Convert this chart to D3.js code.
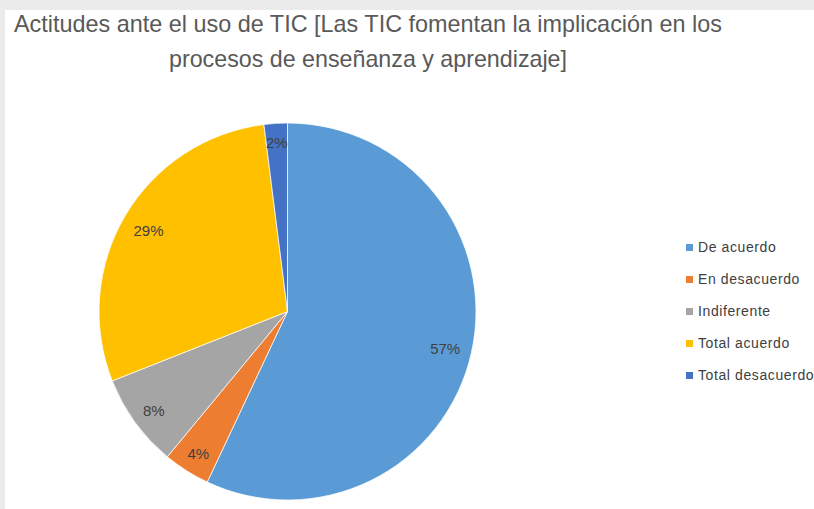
<!DOCTYPE html>
<html>
<head>
<meta charset="utf-8">
<script src="https://cdn.jsdelivr.net/npm/d3@7"></script>
<style>
  html, body { margin: 0; padding: 0; background: #ebebeb; }
  svg { display: block; }
</style>
</head>
<body>
<svg id="chart" width="814" height="509"></svg>
<script>
// Encuesta: actitudes ante el uso de TIC
const titleLines = [
  "Actitudes ante el uso de TIC [Las TIC fomentan la implicación en los",
  "procesos de enseñanza y aprendizaje]"
];
const categories = ["De acuerdo", "En desacuerdo", "Indiferente", "Total acuerdo", "Total desacuerdo"];
const values = [57, 4, 8, 29, 2];
const colors = ["#5B9BD5", "#ED7D31", "#A5A5A5", "#FFC000", "#4472C4"];

const W = 814, H = 509;
const svg = d3.select("#chart");

// fondo del área del gráfico
svg.append("rect").attr("x", 5).attr("y", 10).attr("width", W - 5).attr("height", H - 10).attr("fill", "#ffffff");

// título
const titleG = svg.append("g").attr("fill", "#595959")
  .style("font-family", "'Liberation Sans', Arial, sans-serif")
  .style("font-size", "24px");
const titleSpec = [{ y: 32, len: 708 }, { y: 67, len: 398 }];
titleLines.forEach((t, i) => {
  titleG.append("text")
    .attr("x", 368).attr("y", titleSpec[i].y)
    .attr("text-anchor", "middle")
    .attr("textLength", titleSpec[i].len)
    .attr("lengthAdjust", "spacingAndGlyphs")
    .text(t);
});

// pastel
const cx = 287.5, cy = 311.5, R = 188.5;
const color = d3.scaleOrdinal().domain(categories).range(colors);
const data = categories.map((c, i) => ({ cat: c, value: values[i] }));
const pie = d3.pie().value(d => d.value).sort(null);
const arcs = pie(data);
const arc = d3.arc().innerRadius(0).outerRadius(R);

const pieG = svg.append("g").attr("transform", `translate(${cx},${cy})`);
pieG.selectAll("path").data(arcs).join("path")
  .attr("d", arc)
  .attr("fill", d => color(d.data.cat))
  .attr("stroke", "#ffffff")
  .attr("stroke-width", 0.75);

// etiquetas de porcentaje en el extremo interior de cada sector
const total = d3.sum(values);
const pad = 11;
const labels = pieG.selectAll("text.lbl").data(arcs).join("text")
  .attr("class", "lbl")
  .attr("text-anchor", "middle")
  .attr("fill", "#404040")
  .style("font-family", "'Liberation Sans', Arial, sans-serif")
  .style("font-size", "15px")
  .text(d => Math.round(d.data.value / total * 100) + "%");

labels.each(function(d) {
  const bb = this.getBBox();
  const a = (d.startAngle + d.endAngle) / 2;
  const s = Math.sin(a), c = Math.cos(a);
  const half = Math.abs(s) * bb.width / 2 + Math.abs(c) * 12 / 2;
  const r = R - pad - half;
  // línea base a media altura de dígito por debajo del centro
  d3.select(this).attr("x", r * s).attr("y", -r * c + 7);
});

// leyenda
const legend = svg.append("g").attr("transform", "translate(686,244)");
const rows = legend.selectAll("g").data(categories).join("g")
  .attr("transform", (d, i) => `translate(0,${i * 32})`);
rows.append("rect").attr("width", 7).attr("height", 7).attr("fill", d => color(d));
rows.append("text")
  .attr("x", 12).attr("y", 8)
  .attr("fill", "#404040")
  .style("font-family", "'Liberation Sans', Arial, sans-serif")
  .style("font-size", "14px")
  .style("letter-spacing", "0.6px")
  .text(d => d);
</script>
</body>
</html>
